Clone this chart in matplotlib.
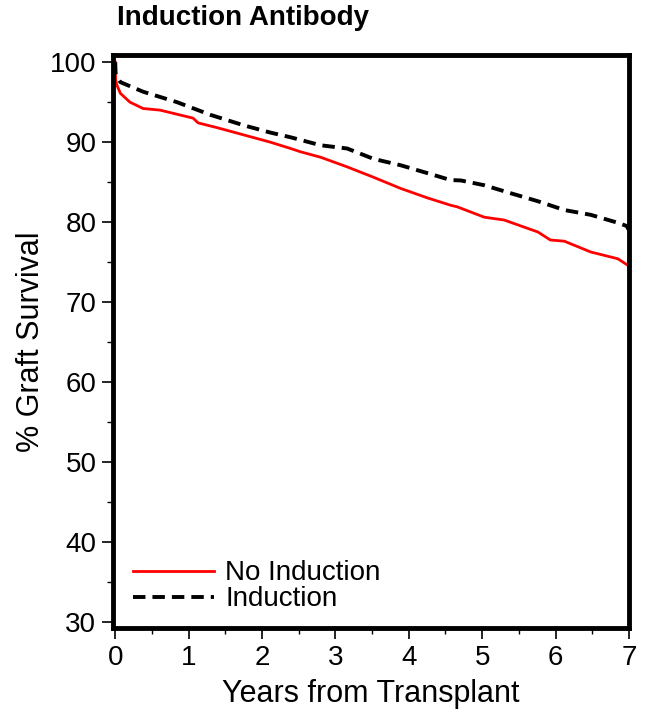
import matplotlib
matplotlib.use("Agg")
import matplotlib.pyplot as plt
from matplotlib.ticker import MultipleLocator

plt.rcParams['font.family'] = ['Liberation Sans', 'DejaVu Sans']

years_no = [0.0, 0.005, 0.02, 0.07, 0.2, 0.38, 0.61, 0.79, 1.06, 1.13, 1.39, 1.75, 2.11, 2.25, 2.39,
            2.52, 2.80, 3.16, 3.52, 3.89, 4.26, 4.57, 4.66, 5.03, 5.30, 5.76, 5.93, 6.12, 6.48, 6.85, 7.0]
surv_no = [100.0, 97.8, 97.2, 96.1, 95.0, 94.2, 94.0, 93.6, 93.0, 92.4, 91.8, 90.9, 90.0, 89.6, 89.2,
           88.8, 88.1, 86.9, 85.6, 84.2, 83.0, 82.1, 81.9, 80.6, 80.25, 78.75, 77.75, 77.6, 76.25, 75.4, 74.5]

years_ind = [0.0, 0.005, 0.02, 0.07, 0.38, 0.84, 1.3, 1.75, 2.11, 2.39, 2.80, 3.16, 3.52, 3.89, 4.26,
             4.57, 4.71, 5.03, 5.39, 5.76, 6.12, 6.48, 6.85, 6.97, 7.0]
surv_ind = [100.0, 98.6, 98.2, 97.5, 96.3, 95.0, 93.4, 92.1, 91.2, 90.6, 89.6, 89.2, 87.9, 87.1, 86.1,
            85.25, 85.2, 84.6, 83.6, 82.6, 81.5, 80.9, 79.9, 79.5, 79.0]

xticks = [0, 1, 2, 3, 4, 5, 6, 7]
yticks = [30, 40, 50, 60, 70, 80, 90, 100]

fig = plt.figure(figsize=(6.47, 7.13), dpi=100)
ax = fig.add_axes([0.1747, 0.1192, 0.7973, 0.8037])

ax.plot(years_no, surv_no, color='#ff0000', lw=2.0, label='No Induction')
ax.plot(years_ind, surv_ind, color='black', lw=2.8, ls=(0, (3.2, 1.8)), label='Induction')

ax.set_xlim(-0.03, 7.0)
ax.set_ylim(29.2, 100.9)
ax.set_xticks(xticks)
ax.set_yticks(yticks)
ax.xaxis.set_minor_locator(MultipleLocator(0.5))
ax.yaxis.set_minor_locator(MultipleLocator(5))
ax.tick_params(axis='both', which='major', direction='out', length=8, width=1.2, labelsize=20, pad=4)
ax.tick_params(axis='both', which='minor', direction='out', length=4, width=1.0)
for s in ax.spines.values():
    s.set_linewidth(3.5)

ax.set_xlabel('Years from Transplant', fontsize=22, labelpad=6)
ax.set_ylabel('% Graft Survival', fontsize=22, labelpad=3)
fig.text(0.181, 0.975, 'Induction Antibody', fontsize=20, fontweight='bold', ha='left', va='center')

ax.legend(loc='lower left', bbox_to_anchor=(0.018, 0.008), frameon=False, fontsize=20,
          handlelength=2.9, handletextpad=0.4, labelspacing=0.0, borderaxespad=0.0)

fig.savefig('out.png', dpi=100)
